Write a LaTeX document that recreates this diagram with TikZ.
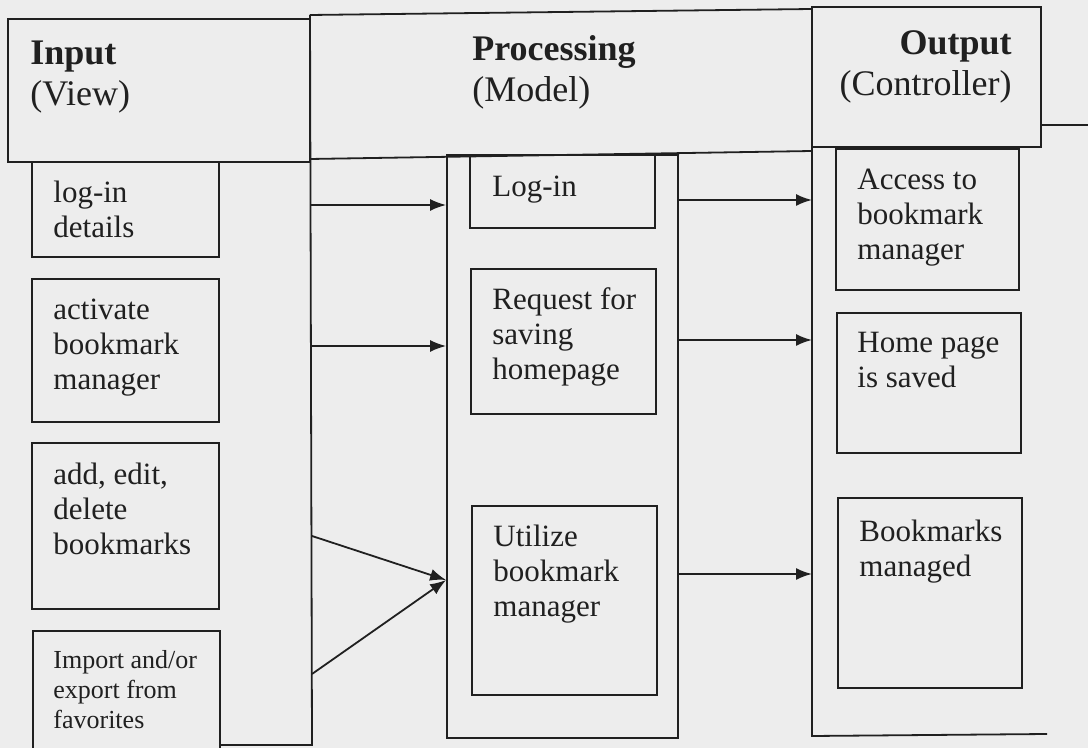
\documentclass[tikz,border=0pt]{standalone}
\usepackage{fontspec}
\setmainfont{Liberation Serif}
\usetikzlibrary{arrows.meta,fit}
\definecolor{paper}{RGB}{237,237,237}
\definecolor{ink}{RGB}{32,32,32}
\begin{document}
\begin{tikzpicture}[x=0.5pt,y=-0.5pt,
  frame/.style={draw=ink,line width=0.9pt},
  cell/.style={frame,inner sep=0pt,fit={#1}},
  % multi-line labels are placed by the baseline of their last line
  body/.style={font=\fontsize{15.5}{17.5}\selectfont,align=left,inner sep=0pt,text=ink,anchor=base west},
  small/.style={body,font=\fontsize{13}{15}\selectfont},
  head/.style={font=\fontsize{18}{20.5}\selectfont,inner sep=0pt,text=ink},
  arr/.style={draw=ink,line width=0.9pt,-{Latex[length=8pt,width=6pt]}}
]
\useasboundingbox (0,0) rectangle (1088,748);
\fill[paper] (0,0) rectangle (1088,748);
\clip (0,0) rectangle (1088,748);

% ---- column headers ----
\node[cell={(8,19) (310,162)}] (inhead) {};
\node[head,align=left,anchor=base west] (intitle) at (30,106) {\textbf{Input}\\(View)};
\draw[frame] (310,15) -- (812,9);
\draw[frame] (310,159) -- (812,151);
\node[head,align=left,anchor=base west] (proctitle) at (472,102) {\textbf{Processing}\\(Model)};
\node[cell={(812,7) (1041,147)}] (outhead) {};
\node[head,align=right,anchor=base east] (outtitle) at (1012,96) {\textbf{Output}\\(Controller)};
\draw[frame] (1041,125) -- (1088,125);

% ---- column frames ----
\draw[frame] (310,15) -- (312,745) -- (220,745);
\node[cell={(447,155) (678,738)}] (proccol) {};
\coordinate (outleft) at (812,0);
\draw[frame] (812,147) -- (812,736) -- (1047,734);

% ---- input boxes ----
\node[cell={(32,162) (219,257)}] (logdet) {};
\node[body] (logdett) at (53,238) {log-in\\details};
\node[cell={(32,279) (219,422)}] (activ) {};
\node[body] (activt) at (53,390) {activate\\bookmark\\manager};
\node[cell={(32,443) (219,609)}] (edit) {};
\node[body] (editt) at (53,555) {add, edit,\\delete\\bookmarks};
\node[cell={(33,631) (220,760)}] (import) {};
\node[small] (importt) at (53,728) {Import and/or\\export from\\favorites};

% ---- processing boxes ----
\node[cell={(470,155) (655,228)}] (login) {};
\node[body] (logint) at (492,197) {Log-in};
\node[cell={(471,269) (656,414)}] (request) {};
\node[body] (requestt) at (492,380) {Request for\\saving\\homepage};
\node[cell={(472,506) (657,695)}] (utilize) {};
\node[body] (utilizet) at (493,617) {Utilize\\bookmark\\manager};

% ---- output boxes ----
\node[cell={(836,149) (1019,290)}] (access) {};
\node[body] (accesst) at (857,260) {Access to\\bookmark\\manager};
\node[cell={(837,313) (1021,453)}] (saved) {};
\node[body] (savedt) at (857,388) {Home page\\is saved};
\node[cell={(838,498) (1022,688)}] (managed) {};
\node[body] (managedt) at (859,577) {Bookmarks\\managed};

% ---- connectors: input -> processing ----
\coordinate (i1) at (310,205);
\coordinate (i2) at (310,346);
\coordinate (i3) at (312,536);
\coordinate (i4) at (312,674);
\coordinate (pin) at (proccol.west |- 0,580);
\draw[arr] (i1) -- (i1 -| proccol.west);
\draw[arr] (i2) -- (i2 -| proccol.west);
\draw[arr] (i3) -- (pin);
\draw[arr] (i4) -- (pin);

% ---- connectors: processing -> output ----
\coordinate (o1) at (proccol.east |- 0,200);
\coordinate (o2) at (proccol.east |- 0,340);
\coordinate (o3) at (proccol.east |- 0,574);
\draw[arr] (o1) -- (o1 -| outleft);
\draw[arr] (o2) -- (o2 -| outleft);
\draw[arr] (o3) -- (o3 -| outleft);
\end{tikzpicture}
\end{document}
